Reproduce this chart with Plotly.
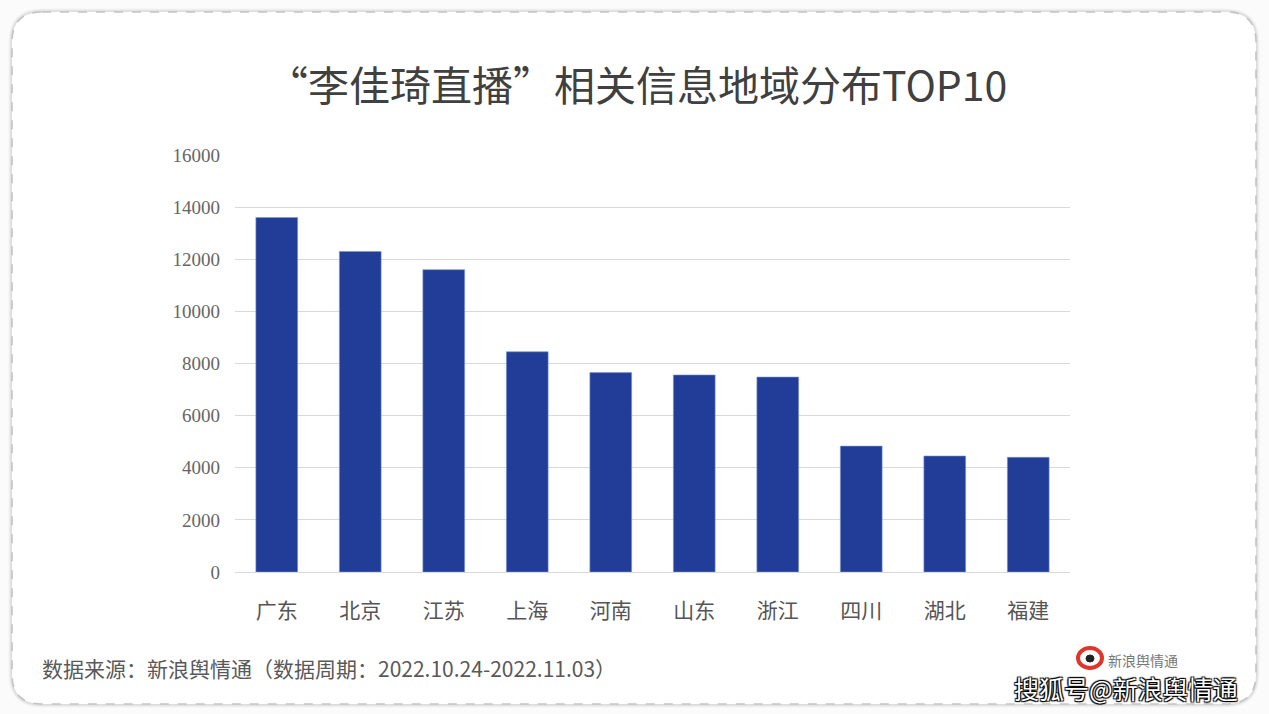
import plotly.graph_objects as go

provinces = ["广东", "北京", "江苏", "上海", "河南", "山东", "浙江", "四川", "湖北", "福建"]
counts = [13600, 12300, 11600, 8450, 7650, 7560, 7480, 4830, 4450, 4400]
y_ticks = [0, 2000, 4000, 6000, 8000, 10000, 12000, 14000, 16000]

title_text = "“李佳琦直播”相关信息地域分布TOP10"
source_text = "数据来源：新浪舆情通（数据周期：2022.10.24-2022.11.03）"
watermark_text = "搜狐号@新浪舆情通"

W, H = 1269, 714
L, R, T, B = 235, 199, 155, 142
PW, PH = W - L - R, H - T - B

def px(x):
    return (x - L) / PW

def py(y):
    return 1 - (y - T) / PH

def rounded_rect(x0, y0, x1, y1, r):
    pts = [
        f"M {px(x0 + r)},{py(y0)}",
        f"L {px(x1 - r)},{py(y0)}",
        f"Q {px(x1)},{py(y0)} {px(x1)},{py(y0 + r)}",
        f"L {px(x1)},{py(y1 - r)}",
        f"Q {px(x1)},{py(y1)} {px(x1 - r)},{py(y1)}",
        f"L {px(x0 + r)},{py(y1)}",
        f"Q {px(x0)},{py(y1)} {px(x0)},{py(y1 - r)}",
        f"L {px(x0)},{py(y0 + r)}",
        f"Q {px(x0)},{py(y0)} {px(x0 + r)},{py(y0)}",
        "Z",
    ]
    return " ".join(pts)

font_cjk = "Noto Sans CJK SC, Noto Sans, sans-serif"

fig = go.Figure(
    go.Bar(
        x=provinces,
        y=counts,
        marker=dict(color="#213d98", line=dict(color="rgba(120,150,210,0.6)", width=1)),
        hoverinfo="x+y",
    )
)

shapes = []
for w, a in [(7, 0.03), (5, 0.04), (3, 0.05)]:
    shapes.append(dict(type="path", xref="paper", yref="paper",
                       path=rounded_rect(12, 12, 1256, 704, 30),
                       line=dict(color=f"rgba(0,0,0,{a})", width=w), layer="below"))
shapes.append(dict(type="path", xref="paper", yref="paper",
                   path=rounded_rect(12, 12, 1256, 704, 30),
                   fillcolor="white",
                   line=dict(color="#c4c4c4", width=1.6, dash="dash"), layer="below"))
# sina logo (approximation)
shapes.append(dict(type="circle", xref="paper", yref="paper",
                   x0=px(1078), x1=px(1102), y0=py(668), y1=py(648),
                   line=dict(color="#e0352b", width=4), fillcolor="rgba(0,0,0,0)"))
shapes.append(dict(type="circle", xref="paper", yref="paper",
                   x0=px(1086), x1=px(1094), y0=py(662), y1=py(655),
                   line=dict(color="#222", width=1), fillcolor="#222"))

annotations = [
    dict(text=title_text, xref="paper", yref="paper", x=px(637), y=py(83),
         xanchor="center", yanchor="middle", showarrow=False,
         font=dict(family=font_cjk, size=41, color="#404040")),
    dict(text=source_text, xref="paper", yref="paper", x=px(40), y=py(668),
         xanchor="left", yanchor="middle", showarrow=False,
         font=dict(family=font_cjk, size=21, color="#595959")),
    dict(text="新浪舆情通", xref="paper", yref="paper", x=px(1106), y=py(660),
         xanchor="left", yanchor="middle", showarrow=False,
         font=dict(family=font_cjk, size=14, color="#777777")),
    dict(text=watermark_text, xref="paper", yref="paper", x=px(1240), y=py(688),
         xanchor="right", yanchor="middle", showarrow=False,
         font=dict(family=font_cjk, size=25, color="white",
                   shadow="1px 1px 1px #000, -1px -1px 1px #000, 1px -1px 1px #000, -1px 1px 1px #000")),
]

fig.update_layout(
    width=W, height=H, autosize=False,
    margin=dict(l=L, r=R, t=T, b=B, autoexpand=False),
    paper_bgcolor="#fbfbfb",
    plot_bgcolor="white",
    bargap=0.5,
    showlegend=False,
    shapes=shapes,
    annotations=annotations,
    font=dict(family=font_cjk),
)
fig.update_xaxes(
    showgrid=False, showline=False, zeroline=False, automargin=False,
    tickfont=dict(family=font_cjk, size=21, color="#555555"),
    ticklabelstandoff=24,
)
fig.update_yaxes(
    range=[0, 16000], tickvals=y_ticks, tickformat="d", automargin=False,
    showgrid=True, gridcolor="#d9d9d9", gridwidth=1,
    zeroline=True, zerolinecolor="#d9d9d9", zerolinewidth=1,
    showline=False,
    tickfont=dict(family="Liberation Serif, DejaVu Serif, serif", size=19, color="#666666"),
    ticklabelstandoff=14,
)

fig.write_html("out.html", config={"displayModeBar": False},
               post_script="document.body.style.margin='0';document.body.style.overflow='hidden';")
